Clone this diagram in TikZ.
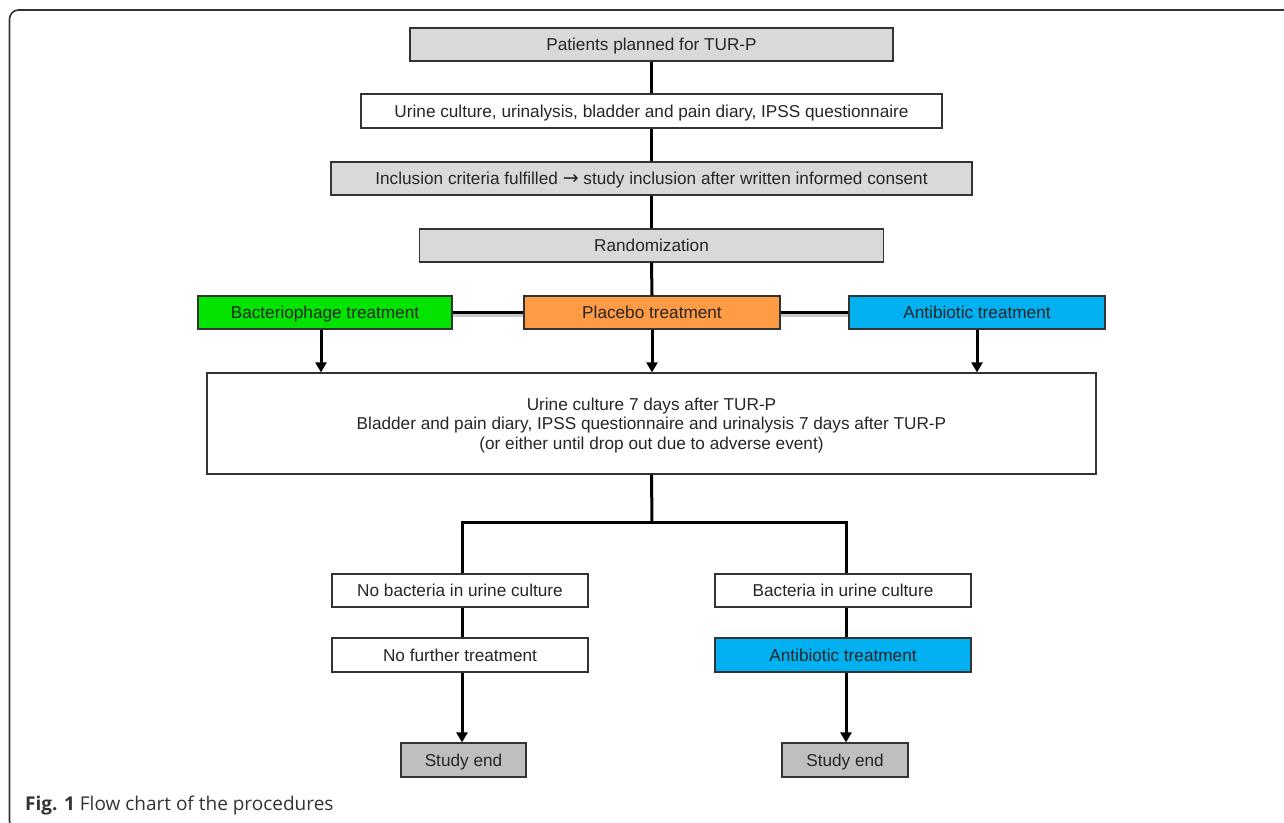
\documentclass[tikz,border=0pt]{standalone}
\usepackage{fontspec}
\setmainfont{Liberation Sans}
\newfontfamily\capfont{Open Sans}
\newfontfamily\arrowfont{DejaVu Sans}
\usetikzlibrary{arrows.meta}
\definecolor{boxgray}{HTML}{D9D9D9}
\definecolor{endgray}{HTML}{BFBFBF}
\definecolor{phagegreen}{HTML}{00E400}
\definecolor{placorange}{HTML}{FF9A45}
\definecolor{abblue}{HTML}{00B0F0}
\definecolor{edge}{HTML}{333333}
\tikzset{
  box/.style={draw=edge, line width=1.2pt, inner sep=0pt, align=center, text depth=0pt, font=\fontsize{17.2}{19.5}\selectfont, text=black!85},
  conn/.style={line width=3pt, black},
  arr/.style={conn, -{Triangle[length=10pt,width=11pt]}},
  shadowline/.style={line width=3pt, black!22},
}
\begin{document}
\begin{tikzpicture}[x=1pt,y=-1pt]
\useasboundingbox (0,0) rectangle (1284,822);
\begin{scope}
\clip (0,0) rectangle (1284,822);
\draw[line width=1.6pt, edge, rounded corners=9pt] (1300,10) -- (9.5,10) -- (9.5,830) -- (40,830);
\end{scope}

\node[box, fill=boxgray, minimum width=483, minimum height=33] (pat) at (651.5,44.5) {Patients planned for TUR-P};
\node[box, fill=white, minimum width=581, minimum height=34] (uri) at (651.5,111) {Urine culture, urinalysis, bladder and pain diary, IPSS questionnaire};
\node[box, fill=boxgray, minimum width=641, minimum height=33] (inc) at (651.5,178.5) {Inclusion criteria fulfilled {\arrowfont\fontsize{19}{19}\selectfont →} study inclusion after written informed consent};
\node[box, fill=boxgray, minimum width=464, minimum height=33] (ran) at (651.5,245.5) {Randomization};
\node[box, fill=phagegreen, minimum width=254, minimum height=33] (pha) at (325,312.5) {Bacteriophage treatment};
\node[box, fill=placorange, minimum width=256, minimum height=33] (pla) at (652,312.5) {Placebo treatment};
\node[box, fill=abblue, minimum width=256, minimum height=33] (abt) at (977,312.5) {Antibiotic treatment};
\node[box, fill=white, minimum width=889, minimum height=101] (big) at (651.5,423.5) {Urine culture 7 days after TUR-P\\Bladder and pain diary, IPSS questionnaire and urinalysis 7 days after TUR-P\\(or either until drop out due to adverse event)};
\node[box, fill=white, minimum width=256, minimum height=33] (nob) at (460,590.5) {No bacteria in urine culture};
\node[box, fill=white, minimum width=256, minimum height=33] (yesb) at (843,590.5) {Bacteria in urine culture};
\node[box, fill=white, minimum width=256, minimum height=34] (nof) at (460,655) {No further treatment};
\node[box, fill=abblue, minimum width=256, minimum height=34] (abt2) at (843,655) {Antibiotic treatment};
\node[box, fill=endgray, minimum width=125, minimum height=34] (end1) at (463.5,760) {Study end};
\node[box, fill=endgray, minimum width=126, minimum height=34] (end2) at (845,760) {Study end};

\coordinate (j) at (652,522);

\draw[conn] (pat.south) -- (uri.north);
\draw[conn] (uri.south) -- (inc.north);
\draw[conn] (inc.south) -- (ran.north);
\draw[conn] (ran.south) -- (pla.north);
\draw[shadowline] ([yshift=-3pt]pha.east) -- ([yshift=-3pt]pla.west);
\draw[shadowline] ([yshift=-3pt]pla.east) -- ([yshift=-3pt]abt.west);
\draw[conn] (pha.east) -- (pla.west);
\draw[conn] (pla.east) -- (abt.west);
\draw[arr] ([xshift=-4pt]pha.south) -- ([xshift=-4pt]pha.south |- big.north);
\draw[arr] (pla.south) -- (pla.south |- big.north);
\draw[arr] (abt.south) -- (abt.south |- big.north);
\draw[conn] (big.south) -- (j);
\draw[conn] ([xshift=2pt]nob.north) |- (j) -| ([xshift=3pt]yesb.north);
\draw[conn] ([xshift=2pt]nob.south) -- ([xshift=2pt]nof.north);
\draw[conn] ([xshift=3pt]yesb.south) -- ([xshift=3pt]abt2.north);
\draw[arr] ([xshift=2pt]nof.south) -- ([xshift=2pt]nof.south |- end1.north);
\draw[arr] ([xshift=3pt]abt2.south) -- ([xshift=3pt]abt2.south |- end2.north);

\node[anchor=base west, font=\capfont\fontsize{19}{22}\selectfont, text=black!80, inner sep=0pt] (cap) at (25,810) {\textbf{Fig. 1} Flow chart of the procedures};
\end{tikzpicture}
\end{document}
